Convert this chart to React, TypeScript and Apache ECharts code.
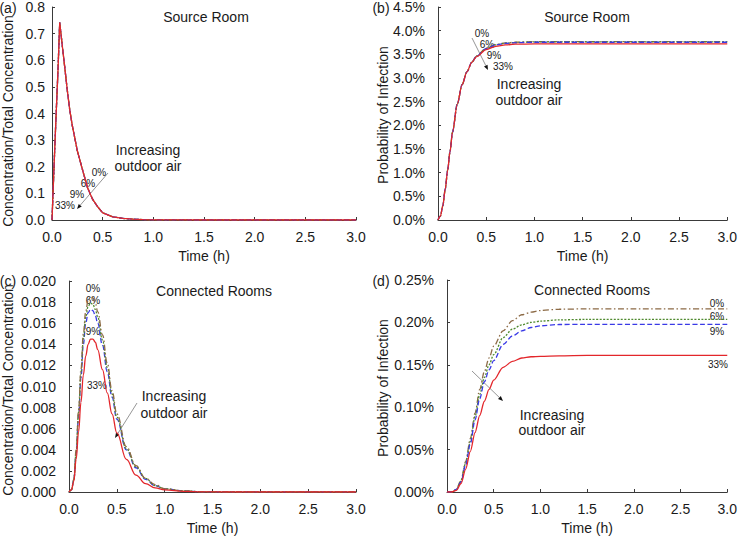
import React, { useEffect, useRef } from "react";
import * as echarts from "echarts";

const SERIES_NAMES = ["0%", "6%", "9%", "33%"];

// (a) Source room concentration
const TIME_A = [0, 0.02, 0.04, 0.06, 0.076, 0.1, 0.125, 0.15, 0.175, 0.2, 0.25, 0.3, 0.35, 0.4, 0.45, 0.5, 0.6, 0.7, 0.8, 0.9, 1.0, 1.2, 1.5, 2.0, 2.5, 3.0];
const CONC_SRC_0 = [0, 0.2, 0.39, 0.57, 0.742, 0.66, 0.576, 0.49, 0.414, 0.355, 0.26, 0.19, 0.122, 0.078, 0.05, 0.027, 0.012, 0.006, 0.003, 0.0015, 0.0007, 0.0002, 0, 0, 0, 0];
const CONC_SRC_6 = [0, 0.2, 0.39, 0.57, 0.742, 0.66, 0.576, 0.49, 0.414, 0.355, 0.26, 0.19, 0.122, 0.078, 0.05, 0.027, 0.012, 0.006, 0.003, 0.0015, 0.0007, 0.0002, 0, 0, 0, 0];
const CONC_SRC_9 = [0, 0.2, 0.39, 0.57, 0.742, 0.66, 0.576, 0.49, 0.414, 0.355, 0.26, 0.19, 0.122, 0.078, 0.05, 0.027, 0.012, 0.006, 0.003, 0.0015, 0.0007, 0.0002, 0, 0, 0, 0];
const CONC_SRC_33 = [0, 0.2, 0.39, 0.57, 0.742, 0.66, 0.576, 0.49, 0.414, 0.355, 0.26, 0.19, 0.122, 0.078, 0.05, 0.027, 0.012, 0.006, 0.003, 0.0015, 0.0007, 0.0002, 0, 0, 0, 0];

// (b) Source room probability of infection (%)
const TIME_B = [0, 0.025, 0.05, 0.075, 0.1, 0.125, 0.15, 0.2, 0.25, 0.3, 0.35, 0.4, 0.5, 0.6, 0.7, 0.8, 1.0, 1.5, 2.0, 3.0];
const PROB_SRC_0 = [0, 0.08, 0.3, 0.65, 1.05, 1.45, 1.85, 2.45, 2.86, 3.13, 3.33, 3.47, 3.63, 3.71, 3.74, 3.755, 3.77, 3.77, 3.77, 3.77];
const PROB_SRC_6 = [0, 0.08, 0.3, 0.65, 1.05, 1.45, 1.85, 2.45, 2.86, 3.13, 3.33, 3.46, 3.62, 3.70, 3.735, 3.75, 3.763, 3.765, 3.765, 3.765];
const PROB_SRC_9 = [0, 0.08, 0.3, 0.65, 1.05, 1.45, 1.85, 2.45, 2.86, 3.13, 3.33, 3.46, 3.62, 3.70, 3.73, 3.745, 3.755, 3.755, 3.755, 3.755];
const PROB_SRC_33 = [0, 0.08, 0.3, 0.65, 1.05, 1.45, 1.85, 2.45, 2.86, 3.13, 3.33, 3.45, 3.6, 3.67, 3.70, 3.715, 3.72, 3.72, 3.72, 3.72];

// (c) Connected rooms concentration
const TIME_C = [0, 0.025, 0.05, 0.075, 0.1, 0.125, 0.15, 0.175, 0.2, 0.225, 0.25, 0.275, 0.3, 0.35, 0.4, 0.45, 0.5, 0.6, 0.7, 0.8, 0.9, 1.0, 1.2, 1.4, 1.6, 2.0, 3.0];
const CONC_CON_0 = [0, 0.0002, 0.0012, 0.004, 0.0077, 0.0116, 0.015, 0.0171, 0.0182, 0.0185, 0.0184, 0.0179, 0.0171, 0.0149, 0.0122, 0.0096, 0.0074, 0.0043, 0.0025, 0.0013, 0.0007, 0.0003, 0.0001, 0.00002, 0, 0, 0];
const CONC_CON_6 = [0, 0.0002, 0.0011, 0.0038, 0.0075, 0.0112, 0.0145, 0.0166, 0.0176, 0.0179, 0.0178, 0.0173, 0.0166, 0.0144, 0.0118, 0.0093, 0.0071, 0.0041, 0.0024, 0.0013, 0.0006, 0.0003, 0.0001, 0.00002, 0, 0, 0];
const CONC_CON_9 = [0, 0.0002, 0.0011, 0.0037, 0.0072, 0.0108, 0.014, 0.016, 0.017, 0.0173, 0.0172, 0.0167, 0.016, 0.0139, 0.0114, 0.009, 0.0069, 0.004, 0.0023, 0.0012, 0.0006, 0.0003, 0.0001, 0.00002, 0, 0, 0];
const CONC_CON_33 = [0, 0.0002, 0.001, 0.0031, 0.0057, 0.0085, 0.0111, 0.0129, 0.014, 0.0145, 0.0145, 0.0142, 0.0135, 0.0116, 0.0094, 0.0074, 0.0056, 0.0031, 0.0016, 0.0008, 0.0004, 0.0002, 0.00005, 0.00001, 0, 0, 0];

// (d) Connected rooms probability of infection (%)
const TIME_D = [0, 0.05, 0.1, 0.15, 0.2, 0.25, 0.3, 0.35, 0.4, 0.45, 0.5, 0.6, 0.7, 0.8, 0.9, 1.0, 1.2, 1.5, 2.0, 3.0];
const PROB_CON_0 = [0, 0, 0.003, 0.014, 0.036, 0.063, 0.093, 0.121, 0.142, 0.158, 0.172, 0.19, 0.202, 0.209, 0.212, 0.214, 0.2155, 0.216, 0.216, 0.216];
const PROB_CON_6 = [0, 0, 0.003, 0.013, 0.034, 0.06, 0.089, 0.115, 0.135, 0.15, 0.162, 0.182, 0.192, 0.197, 0.2, 0.2015, 0.203, 0.2035, 0.2035, 0.2035];
const PROB_CON_9 = [0, 0, 0.003, 0.012, 0.032, 0.057, 0.085, 0.11, 0.13, 0.144, 0.155, 0.174, 0.184, 0.19, 0.194, 0.196, 0.1975, 0.1977, 0.1977, 0.1977];
const PROB_CON_33 = [0, 0, 0.002, 0.01, 0.027, 0.048, 0.07, 0.09, 0.107, 0.121, 0.132, 0.147, 0.154, 0.158, 0.1595, 0.16, 0.1605, 0.161, 0.161, 0.161];

const FONT = "'Liberation Sans', Arial, Helvetica, sans-serif";
const COLORS = ["#8c6a45", "#4f8a2f", "#3a3ae6", "#e3262b"];
const DASHES: any[] = [[6, 2.5, 1.5, 2.5], [2, 1.5], [5, 2.5], "solid"];

const pair = (t: number[], v: number[]) => t.map((x, i) => [x, v[i]]);

function arrow(x1: number, y1: number, x2: number, y2: number) {
  const dx = x2 - x1, dy = y2 - y1;
  const L = Math.hypot(dx, dy);
  const ux = dx / L, uy = dy / L;
  const hl = 5, hw = 2;
  const bx = x2 - ux * hl, by = y2 - uy * hl;
  return [
    { type: "line", silent: true, shape: { x1, y1, x2: bx, y2: by }, style: { stroke: "#8a8a8a", lineWidth: 0.9 } },
    { type: "polygon", silent: true, shape: { points: [[x2, y2], [bx - uy * hw, by + ux * hw], [bx + uy * hw, by - ux * hw]] }, style: { fill: "#111" } },
  ];
}

function txt(text: string, x: number, y: number, size = 14, rotation = 0) {
  return { type: "text", silent: true, x, y, rotation, style: { text, fontSize: size, fontFamily: FONT, fill: "#1a1a1a", align: "center", verticalAlign: "middle" } };
}

export default function App() {
  const ref = useRef<HTMLDivElement>(null);
  useEffect(() => {
    if (!ref.current) return;
    const chart = echarts.init(ref.current, null, { renderer: "svg" });

    const grids = [
      { left: 52, top: 7, width: 304, height: 213 },
      { left: 438, top: 7, width: 291, height: 213 },
      { left: 69, top: 281, width: 287, height: 212 },
      { left: 447, top: 280, width: 282, height: 213 },
    ];
    const yCfg = [
      { max: 0.8, interval: 0.1, fmt: (v: number) => v.toFixed(1), margin: 7 },
      { max: 4.5, interval: 0.5, fmt: (v: number) => v.toFixed(1) + "%", margin: 13 },
      { max: 0.02, interval: 0.002, fmt: (v: number) => v.toFixed(3), margin: 13 },
      { max: 0.25, interval: 0.05, fmt: (v: number) => v.toFixed(2) + "%", margin: 13 },
    ];
    const axisLine = { show: true, lineStyle: { color: "#3a3a3a", width: 1 } };
    const axisTick = { show: true, inside: true, length: 3, lineStyle: { color: "#3a3a3a" } };

    const xAxis = grids.map((_, i) => ({
      type: "value", gridIndex: i, min: 0, max: 3, interval: 0.5,
      name: "Time (h)", nameLocation: "middle", nameGap: 29,
      nameTextStyle: { fontSize: 14, fontFamily: FONT, color: "#1a1a1a" },
      axisLine, axisTick, splitLine: { show: false },
      axisLabel: { formatter: (v: number) => v.toFixed(1), fontSize: 14, fontFamily: FONT, color: "#1a1a1a", margin: 10 },
    }));
    const yAxis = yCfg.map((c, i) => ({
      type: "value", gridIndex: i, min: 0, max: c.max, interval: c.interval,
      axisLine, axisTick, splitLine: { show: false },
      axisLabel: { formatter: c.fmt, fontSize: 14, fontFamily: FONT, color: "#1a1a1a", margin: c.margin },
    }));

    const panels = [
      { t: TIME_A, v: [CONC_SRC_0, CONC_SRC_6, CONC_SRC_9, CONC_SRC_33], smooth: false },
      { t: TIME_B, v: [PROB_SRC_0, PROB_SRC_6, PROB_SRC_9, PROB_SRC_33], smooth: 0.3 },
      { t: TIME_C, v: [CONC_CON_0, CONC_CON_6, CONC_CON_9, CONC_CON_33], smooth: 0.4 },
      { t: TIME_D, v: [PROB_CON_0, PROB_CON_6, PROB_CON_9, PROB_CON_33], smooth: 0.3 },
    ];
    const series: any[] = [];
    panels.forEach((p, gi) => {
      const idxs = gi === 2 ? [3, 2, 1, 0] : [0, 1, 2, 3];
      idxs.forEach((k) => {
        series.push({
          type: "line", name: SERIES_NAMES[k], xAxisIndex: gi, yAxisIndex: gi,
          data: pair(p.t, p.v[k]), showSymbol: false, smooth: p.smooth, smoothMonotone: "x",
          lineStyle: { color: COLORS[k], width: 1.3, type: DASHES[k] },
          z: k === 3 ? 5 : 3,
        });
      });
    });

    const R = Math.PI / 2;
    const P = 10;
    const graphic: any[] = [
      txt("(a)", 8, 8), txt("(b)", 381, 8), txt("(c)", 8, 281), txt("(d)", 381, 281),
      txt("Concentration/Total Concentration", 8, 121, 14, R),
      txt("Probability of Infection", 383, 115, 14, R),
      txt("Concentration/Total Concentration", 8, 390, 14, R),
      txt("Probability of Infection", 383, 388, 14, R),
      txt("Source Room", 206, 17), txt("Source Room", 587, 17),
      txt("Connected Rooms", 214, 291), txt("Connected Rooms", 592, 290),
      // (a)
      ...arrow(108, 173, 77, 209),
      txt("Increasing", 148, 150), txt("outdoor air", 148, 166),
      txt("0%", 99, 172, P), txt("6%", 88, 183, P), txt("9%", 77, 194, P), txt("33%", 65, 205, P),
      // (b)
      ...arrow(472, 38, 488, 70),
      txt("Increasing", 529, 84), txt("outdoor air", 529, 100),
      txt("0%", 482, 33, P), txt("6%", 487, 44, P), txt("9%", 494, 55, P), txt("33%", 503, 66, P),
      // (c)
      ...arrow(137, 403, 115, 438),
      txt("Increasing", 174, 396), txt("outdoor air", 174, 413),
      txt("0%", 93, 288, P), txt("6%", 93, 300, P), txt("9%", 93, 331, P), txt("33%", 97, 385, P),
      // (d)
      ...arrow(472, 371, 503, 401),
      txt("Increasing", 552, 415), txt("outdoor air", 552, 430),
      txt("0%", 717, 303, P), txt("6%", 717, 316, P), txt("9%", 717, 331, P), txt("33%", 718, 364, P),
    ];

    chart.setOption({
      animation: false,
      backgroundColor: "#ffffff",
      textStyle: { fontFamily: FONT },
      grid: grids.map((g) => ({ ...g, containLabel: false })),
      xAxis, yAxis, series, graphic,
    });
    return () => chart.dispose();
  }, []);
  return <div ref={ref} style={{ position: "fixed", left: 0, top: 0, width: 740, height: 536 }} />;
}
